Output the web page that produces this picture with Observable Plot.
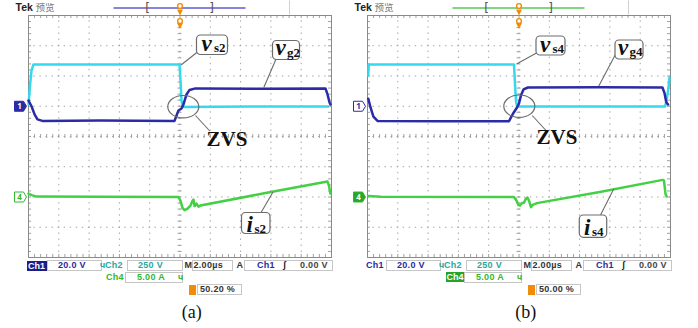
<!DOCTYPE html>
<html>
<head>
<meta charset="utf-8">
<script src="https://cdn.jsdelivr.net/npm/d3@7"></script>
<script src="https://cdn.jsdelivr.net/npm/@observablehq/plot@0.6"></script>
<style>
  html, body { margin: 0; background: #fff; }
  #figure { position: relative; width: 698px; height: 328px; overflow: hidden; background: #fff; }
  .panel { position: absolute; top: 0; width: 339px; height: 328px; }
  .panel > svg { position: absolute; left: 0; top: 0; overflow: visible; }
  .st { position: absolute; font: bold 9px "Liberation Sans", Arial, sans-serif; line-height: 12px; height: 12px; white-space: nowrap; letter-spacing: 0.3px; }
  .fld { position: absolute; border: 1px solid #c6c6c6; box-sizing: border-box; background: #fff; }
  .badge { position: absolute; color: #fff; text-align: center; font: bold 9px "Liberation Sans", Arial, sans-serif; line-height: 10px; }
  .cap { position: absolute; font: 18px "Liberation Serif", "Times New Roman", serif; color: #111; transform: translateX(-50%); line-height: 18px; white-space: nowrap; }
</style>
</head>
<body>
<div id="figure"></div>
<script>
// Scope settings shown in the status bar
const ch1VoltsPerDiv = 20;    // gate–source voltage probe
const ch2VoltsPerDiv = 250;   // drain–source voltage probe
const ch4AmpsPerDiv = 5;      // drain current probe
const timePerDiv = 2;         // µs per division
const triggerLevel = 0;       // V, on Ch1
const ch1Position = 1;        // ground markers, divisions above centre
const ch2Position = 1;
const ch4Position = -2;
const triggerPercent = [50.20, 50.00];
const panelLabels = ["(a)", "(b)"];
const switchIds = ["2", "4"];

// Traces as [time µs from trigger, value]
const vg2 = [[-10.0, 3.8], [-9.8, 0], [-9.6, -5.4], [-9.41, -8.7], [-9.08, -9.7], [-5.25, -9.5],
  [-0.36, -9.7], [-0.23, -6.1], [-0.10, -2.8], [0.10, -1.5], [0.23, 1.2], [0.43, 7.8], [0.63, 10.8],
  [1.02, 11.8], [5.31, 11.5], [9.60, 11.8], [9.74, 7.8], [9.87, 2.5], [9.93, 1.2]];
const vs2 = [[-10.0, 15], [-9.9, 172], [-9.8, 296], [-9.67, 346], [-0.03, 346], [0.03, 214],
  [0.10, 48], [0.17, -2], [0.30, -6], [4.65, -2], [9.8, -2]];
const is2 = [[-10.0, 0.56], [-9.8, 0.31], [-9.47, 0.07], [-5.25, 0.03], [-0.10, -0.02], [0.03, -0.6],
  [0.17, -1.84], [0.30, -2.17], [0.50, -1.92], [0.69, -1.42], [0.83, -0.6], [0.89, -0.43], [0.96, -1.51],
  [1.09, -1.09], [1.22, -1.59], [1.35, -1.42], [5.64, 0.65], [9.74, 2.55], [9.83, 1.89], [9.93, 0.56]];

const vg4 = [[-9.95, 5.0], [-9.80, -0.8], [-9.61, -6.8], [-9.34, -9.7], [-5.2, -9.9], [-0.66, -9.9],
  [-0.53, -7.4], [-0.39, -4.8], [-0.26, -2.8], [-0.13, -0.8], [0.0, 1.9], [0.13, 7.2], [0.30, 11.1],
  [0.59, 12.4], [5.33, 12.6], [9.47, 12.4], [9.61, 8.5], [9.72, 2.7], [9.84, 1.2]];
const vs4 = [[-9.95, 255], [-9.92, 346], [-0.33, 346], [-0.26, 172], [-0.20, 48], [-0.13, -2],
  [5.33, -2], [9.64, -2], [9.74, 48], [9.87, 156], [9.93, 238]];
const is4 = [[-9.95, 0.15], [-9.14, 0.03], [-0.33, -0.02], [-0.20, -0.43], [-0.03, -1.34], [0.07, -1.42],
  [0.20, -1.0], [0.33, -0.93], [0.46, -0.26], [0.56, -0.1], [0.66, -0.6], [0.79, -1.67], [0.92, -1.26],
  [1.05, -1.18], [1.18, -1.01], [5.33, 0.81], [9.49, 2.83], [9.57, 2.72], [9.67, 0.51], [9.74, 0.07]];

const colors = { ch1: "#2b2ba6", ch2: "#34d9ef", ch4: "#44d044", ch1Text: "#2a2aa0", ch2Text: "#2aa79f",
  ch4Text: "#2fb82f", trig: "#f08c0a", grid: "#a2a2a2", frame: "#8a8a8a", note: "#6c6c6c" };

const serif = "'Liberation Serif', 'Times New Roman', serif";

// Custom symbols drawn in pixels around the dot position
const ellipse = (rx, ry) => ({ draw(c) { const k = 0.5523;
  c.moveTo(rx, 0); c.bezierCurveTo(rx, ry * k, rx * k, ry, 0, ry); c.bezierCurveTo(-rx * k, ry, -rx, ry * k, -rx, 0);
  c.bezierCurveTo(-rx, -ry * k, -rx * k, -ry, 0, -ry); c.bezierCurveTo(rx * k, -ry, rx, -ry * k, rx, 0); c.closePath(); } });
const tag = { draw(c) { c.moveTo(-6, -5); c.lineTo(3, -5); c.lineTo(6, 0); c.lineTo(3, 5); c.lineTo(-6, 5); c.closePath(); } };
const downTriangle = { draw(c) { c.moveTo(-3, -3); c.lineTo(3, -3); c.lineTo(0, 3); c.closePath(); } };

function scopePanel(p) {
  const W = 339, H = 262, L = 28, R = 8, T = 15, B = 5;
  const pw = W - L - R, ph = H - T - B;
  const X = px => (px - L) / pw * 20 - 10;   // panel pixel -> µs
  const Y = py => 4 - (py - T) / ph * 8;     // panel pixel -> divisions
  const onScreen = (pts, perDiv, pos) => pts.map(([t, v]) => ({ t, div: v / perDiv + pos }));

  const majorT = [-8, -6, -4, -2, 2, 4, 6, 8];
  const majorD = [-3, -2, -1, 1, 2, 3];
  const minorT = d3.range(-10, 10.001, timePerDiv / 5);
  const minorD = d3.range(-4, 4.001, 0.2);
  const dotted = { stroke: colors.grid, strokeWidth: 1, strokeDasharray: "1.4,4.66", strokeDashoffset: 0.7 };
  const tk = { stroke: colors.grid, strokeWidth: 1 };
  const trace = { x: "t", y: "div", strokeWidth: 2.5, strokeLinejoin: "round" };

  const box = (b, main, sub, mainAt, subAt, leader) => [
    Plot.link([0], { x1: X(leader[0]), y1: Y(leader[1]), x2: X(leader[2]), y2: Y(leader[3]), stroke: colors.note, strokeWidth: 1.1 }),
    Plot.rect([0], { x1: X(b[0]), x2: X(b[2]), y1: Y(b[1]), y2: Y(b[3]), rx: 4, fill: "white", stroke: colors.note, strokeWidth: 1.2 }),
    Plot.text([main], { x: X(mainAt[0]), y: Y(mainAt[1]), text: d => d, textAnchor: "start", fontFamily: serif,
      fontStyle: "italic", fontWeight: "bold", fontSize: 23, fill: "#111" }),
    Plot.text([sub], { x: X(subAt[0]), y: Y(subAt[1]), text: d => d, textAnchor: "start", fontFamily: serif,
      fontWeight: "bold", fontSize: 13, fill: "#111" })
  ];

  const a = p.notes;
  return Plot.plot({
    width: W, height: H, marginLeft: L, marginRight: R, marginTop: T, marginBottom: B,
    x: { domain: [-10, 10], axis: null },
    y: { domain: [-4, 4], axis: null },
    style: { background: "transparent", overflow: "visible" },
    marks: [
      // graticule
      Plot.ruleX(majorT, dotted),
      Plot.ruleY(majorD, dotted),
      Plot.ruleX([0], dotted),
      Plot.ruleY([0], dotted),
      Plot.ruleX(minorT, { ...tk, y1: -0.066, y2: 0.066 }),
      Plot.ruleY(minorD, { ...tk, x1: -0.13, x2: 0.13 }),
      Plot.ruleX(minorT, { ...tk, y1: 4, y2: 3.9 }),
      Plot.ruleX(minorT, { ...tk, y1: -4, y2: -3.9 }),
      Plot.ruleY(minorD, { ...tk, x1: -10, x2: -9.8 }),
      Plot.ruleY(minorD, { ...tk, x1: 10, x2: 9.8 }),
      Plot.frame({ stroke: colors.frame }),

      // top bar
      Plot.text(["Tek"], { x: X(15), y: Y(7.5), text: d => d, textAnchor: "start", fontWeight: "bold", fontSize: 10.5,
        fontFamily: "'Liberation Sans', Arial, sans-serif", fill: "#222" }),
      Plot.text(["预览"], { x: X(35), y: Y(7.5), text: d => d, textAnchor: "start", fontSize: 9.5,
        fontFamily: "'Noto Sans CJK SC', sans-serif", fill: "#777" }),
      Plot.link([0], { x1: X(289), x2: X(289), y1: Y(0), y2: Y(14), stroke: "#cfcfcf" }),
      Plot.link([0], { x1: X(113), x2: X(245), y1: Y(7.5), y2: Y(7.5), stroke: p.recordColor, strokeWidth: 1.5 }),
      Plot.text(["[", "]"], { x: (d, i) => X(i ? 211 : 147), y: Y(7.5), text: d => d, fontSize: 12, fill: "#555",
        fontFamily: "'DejaVu Sans', sans-serif" }),
      Plot.dot([0], { x: X(179.5), y: Y(5.5), r: 2.4, stroke: colors.trig, strokeWidth: 1.4, fill: "white" }),
      Plot.dot([0], { x: X(179.5), y: Y(12), symbol: downTriangle, fill: colors.trig }),
      Plot.dot([0], { x: X(179.5), y: Y(20.5), r: 2.4, stroke: colors.trig, strokeWidth: 1.4, fill: "white" }),
      Plot.dot([0], { x: X(179.5), y: Y(25.5), symbol: downTriangle, fill: colors.trig }),

      // traces
      Plot.line(onScreen(p.vs, ch2VoltsPerDiv, ch2Position), { ...trace, stroke: colors.ch2 }),
      Plot.line(onScreen(p.vg, ch1VoltsPerDiv, ch1Position), { ...trace, stroke: colors.ch1 }),
      Plot.line(onScreen(p.is, ch4AmpsPerDiv, ch4Position), { ...trace, stroke: colors.ch4 }),

      // ground markers
      Plot.dot([0], { x: X(20), y: ch1Position, symbol: tag, fill: p.ch1Active ? colors.ch1 : "white", stroke: colors.ch1, strokeWidth: 1 }),
      Plot.text(["1"], { x: X(19), y: ch1Position, text: d => d, fontSize: 8, fontWeight: "bold", fill: p.ch1Active ? "white" : colors.ch1 }),
      Plot.dot([0], { x: X(20), y: ch4Position, symbol: tag, fill: p.ch1Active ? "white" : "#27a827", stroke: "#2fb82f", strokeWidth: 1 }),
      Plot.text(["4"], { x: X(19), y: ch4Position, text: d => d, fontSize: 8, fontWeight: "bold", fill: p.ch1Active ? "#2fb82f" : "white" }),

      // annotations
      ...box(a.vs.box, "v", "s" + p.id, a.vs.main, a.vs.sub, a.vs.leader),
      ...box(a.vg.box, "v", "g" + p.id, a.vg.main, a.vg.sub, a.vg.leader),
      ...box(a.is.box, "i", "s" + p.id, a.is.main, a.is.sub, a.is.leader),
      Plot.dot([0], { x: X(a.zvs.ellipse[0]), y: Y(a.zvs.ellipse[1]), symbol: ellipse(15.5, 11.2), fill: "none", stroke: colors.note, strokeWidth: 1.2 }),
      Plot.link([0], { x1: X(a.zvs.leader[0]), y1: Y(a.zvs.leader[1]), x2: X(a.zvs.leader[2]), y2: Y(a.zvs.leader[3]), stroke: colors.note, strokeWidth: 1.1 }),
      Plot.text(["ZVS"], { x: X(a.zvs.text[0]), y: Y(a.zvs.text[1]), text: d => d, fontFamily: serif, fontWeight: "bold", fontSize: 21, fill: "#111" })
    ]
  });
}

function statusBar(host, p, k) {
  const txt = (s, left, top, color) => {
    const e = document.createElement("div"); e.className = "st"; e.textContent = s;
    Object.assign(e.style, { left: left + "px", top: top + "px", color }); host.appendChild(e);
  };
  const fld = (left, top, w, h) => {
    const e = document.createElement("div"); e.className = "fld";
    Object.assign(e.style, { left: left + "px", top: top + "px", width: w + "px", height: h + "px" }); host.appendChild(e);
  };
  const badge = (s, left, top, w, bg) => {
    const e = document.createElement("div"); e.className = "badge"; e.textContent = s;
    Object.assign(e.style, { left: left + "px", top: top + "px", width: w + "px", height: "10px", background: bg }); host.appendChild(e);
  };
  // row 1
  fld(46.5, 260, 55.5, 11); fld(127, 260, 56, 11); fld(191.5, 260, 41.5, 11); fld(244, 260, 89, 11);
  if (p.ch1Active) badge("Ch1", 26.5, 260.5, 20, "#1d1d88"); else txt("Ch1", 27, 259, colors.ch1Text);
  txt(ch1VoltsPerDiv.toFixed(1) + " V", 58, 259, colors.ch1Text);
  txt("ч", 100, 259, colors.ch2Text);
  txt("Ch2", 105, 259, colors.ch2Text);
  txt(ch2VoltsPerDiv + " V", 138, 259, colors.ch2Text);
  txt("M", 184.5, 259, "#333");
  txt(timePerDiv.toFixed(2) + "µs", 193.5, 259, "#333");
  txt("A", 236.5, 259, "#333");
  txt("Ch1", 257, 259, colors.ch1Text);
  txt("ʃ", 283, 259, "#222");
  txt(triggerLevel.toFixed(2) + " V", 300, 259, "#444");
  // row 2
  fld(125, 271.5, 58, 11);
  if (p.ch1Active) txt("Ch4", 106, 271, colors.ch4Text); else badge("Ch4", 107, 272, 18, "#27a327");
  txt(ch4AmpsPerDiv.toFixed(2) + " A", 137, 271, colors.ch4Text);
  txt("ч", 178, 271, colors.ch4Text);
  // row 3
  fld(197, 283.5, 45, 11);
  badge("", 189, 285, 7, colors.trig);
  txt(triggerPercent[k].toFixed(2) + " %", 200, 283, "#333");
  // caption
  const c = document.createElement("div"); c.className = "cap"; c.textContent = panelLabels[k];
  Object.assign(c.style, { left: p.capX + "px", top: "303px" }); host.appendChild(c);
}

const panels = [
  { id: switchIds[0], vg: vg2, vs: vs2, is: is2, ch1Active: true, recordColor: "#5d5dcf", capX: 191.7,
    notes: {
      vs: { box: [196.5, 35, 227.5, 54.5], main: [201, 43.3], sub: [213.5, 47.5], leader: [197, 51.5, 180.5, 64.5] },
      vg: { box: [272.5, 40.5, 299.5, 59.5], main: [275, 47.6], sub: [286.5, 52], leader: [276, 57.5, 263.3, 87] },
      is: { box: [241.5, 212.5, 270, 233.5], main: [246, 224.3], sub: [254, 228.5], leader: [260, 213, 272.5, 191.5] },
      zvs: { ellipse: [182.8, 106.2], leader: [195, 115, 209.3, 130.5], text: [226.5, 138.5] } } },
  { id: switchIds[1], vg: vg4, vs: vs4, is: is4, ch1Active: false, recordColor: "#58c858", capX: 186.8,
    notes: {
      vs: { box: [197, 36, 226, 55], main: [200.5, 44], sub: [213, 48.2], leader: [197, 52.5, 177, 63.5] },
      vg: { box: [276, 40, 304, 59], main: [278.5, 47.4], sub: [290, 51.8], leader: [277, 52, 259.3, 85.5] },
      is: { box: [240.3, 215, 267.7, 237.3], main: [244.5, 227.6], sub: [252.5, 231.6], leader: [260.3, 216, 274.3, 188.3] },
      zvs: { ellipse: [179.8, 105.7], leader: [192.7, 115, 207, 130.5], text: [217.5, 137] } } }
];

const fig = document.getElementById("figure");
panels.forEach((p, k) => {
  const host = document.createElement("div");
  host.className = "panel";
  host.style.left = (k * 339) + "px";
  fig.appendChild(host);
  host.appendChild(scopePanel(p));
  statusBar(host, p, k);
});
</script>
</body>
</html>
